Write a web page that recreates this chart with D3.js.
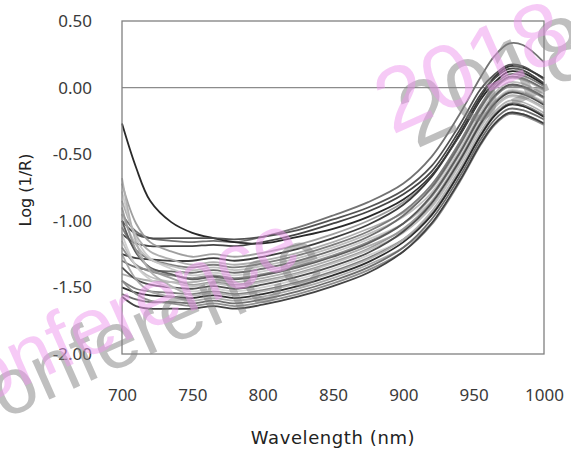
<!DOCTYPE html>
<html><head><meta charset="utf-8">
<script src="https://cdn.jsdelivr.net/npm/d3@7"></script>
<style>body{margin:0;background:#fff}</style>
</head><body>
<svg id="c" width="571" height="453"></svg>
<script>
// wavelengths (nm) where each spectrum is sampled
const wavelengths = [700,710,720,735,750,765,780,800,825,850,875,900,920,940,955,965,975,985,1000];
// Log(1/R) spectra
const spec01 = [-0.95,-1.08,-1.13,-1.15,-1.16,-1.15,-1.16,-1.12,-1.05,-0.96,-0.86,-0.72,-0.52,-0.20,0.08,0.24,0.33,0.32,0.19];
const spec02 = [-0.27,-0.60,-0.85,-1.01,-1.09,-1.13,-1.16,-1.17,-1.12,-1.06,-0.97,-0.84,-0.66,-0.36,-0.09,0.04,0.12,0.11,0.02];
const spec03 = [-1.00,-1.10,-1.13,-1.13,-1.13,-1.13,-1.14,-1.12,-1.07,-0.99,-0.90,-0.77,-0.59,-0.28,-0.01,0.10,0.17,0.16,0.06];
const spec04 = [-1.10,-1.17,-1.19,-1.19,-1.19,-1.18,-1.19,-1.16,-1.10,-1.02,-0.93,-0.80,-0.63,-0.32,-0.05,0.07,0.14,0.13,0.03];
const spec05 = [-0.72,-1.02,-1.16,-1.23,-1.27,-1.25,-1.27,-1.24,-1.18,-1.10,-1.00,-0.86,-0.67,-0.35,-0.07,0.08,0.16,0.15,0.07];
const spec06 = [-1.25,-1.28,-1.29,-1.30,-1.30,-1.28,-1.30,-1.27,-1.21,-1.13,-1.03,-0.88,-0.67,-0.35,-0.07,0.08,0.16,0.15,0.07];
const spec07 = [-0.85,-1.11,-1.23,-1.29,-1.33,-1.31,-1.33,-1.30,-1.24,-1.16,-1.06,-0.94,-0.76,-0.44,-0.16,-0.01,0.07,0.06,-0.02];
const spec08 = [-1.05,-1.22,-1.29,-1.33,-1.35,-1.33,-1.35,-1.32,-1.26,-1.18,-1.08,-0.93,-0.73,-0.41,-0.13,0.02,0.10,0.09,0.01];
const spec09 = [-0.95,-1.18,-1.29,-1.34,-1.37,-1.35,-1.37,-1.34,-1.28,-1.20,-1.10,-0.97,-0.79,-0.47,-0.19,-0.04,0.04,0.03,-0.05];
const spec10 = [-1.30,-1.35,-1.37,-1.38,-1.39,-1.37,-1.39,-1.36,-1.30,-1.22,-1.12,-0.96,-0.75,-0.43,-0.15,0.00,0.08,0.07,-0.01];
const spec11 = [-0.78,-1.13,-1.28,-1.36,-1.41,-1.39,-1.41,-1.38,-1.32,-1.24,-1.14,-1.02,-0.85,-0.53,-0.25,-0.10,-0.02,-0.03,-0.11];
const spec12 = [-1.20,-1.33,-1.38,-1.41,-1.43,-1.41,-1.43,-1.40,-1.34,-1.26,-1.16,-1.02,-0.82,-0.50,-0.22,-0.07,0.01,0.00,-0.08];
const spec13 = [-1.00,-1.24,-1.35,-1.40,-1.44,-1.42,-1.44,-1.41,-1.35,-1.27,-1.17,-1.02,-0.81,-0.49,-0.21,-0.06,0.02,0.01,-0.07];
const spec14 = [-1.40,-1.43,-1.45,-1.46,-1.46,-1.44,-1.46,-1.43,-1.37,-1.29,-1.19,-1.07,-0.89,-0.57,-0.29,-0.14,-0.06,-0.07,-0.15];
const spec15 = [-0.90,-1.22,-1.36,-1.43,-1.48,-1.46,-1.48,-1.45,-1.39,-1.31,-1.21,-1.06,-0.86,-0.54,-0.26,-0.11,-0.03,-0.04,-0.12];
const spec16 = [-1.15,-1.34,-1.42,-1.46,-1.49,-1.47,-1.49,-1.46,-1.40,-1.32,-1.22,-1.09,-0.90,-0.58,-0.30,-0.15,-0.07,-0.08,-0.16];
const spec17 = [-1.35,-1.44,-1.48,-1.50,-1.51,-1.49,-1.51,-1.48,-1.42,-1.34,-1.24,-1.08,-0.87,-0.55,-0.27,-0.12,-0.04,-0.05,-0.13];
const spec18 = [-1.10,-1.34,-1.44,-1.50,-1.53,-1.51,-1.53,-1.50,-1.44,-1.36,-1.26,-1.14,-0.96,-0.64,-0.36,-0.21,-0.13,-0.14,-0.22];
const spec19 = [-1.45,-1.51,-1.53,-1.54,-1.55,-1.53,-1.55,-1.52,-1.46,-1.38,-1.28,-1.14,-0.95,-0.63,-0.35,-0.20,-0.12,-0.13,-0.21];
const spec20 = [-0.68,-1.16,-1.38,-1.49,-1.56,-1.54,-1.56,-1.53,-1.47,-1.39,-1.29,-1.14,-0.93,-0.61,-0.33,-0.18,-0.10,-0.11,-0.19];
const spec21 = [-1.50,-1.54,-1.56,-1.57,-1.58,-1.56,-1.58,-1.55,-1.49,-1.41,-1.31,-1.16,-0.96,-0.64,-0.36,-0.21,-0.13,-0.14,-0.22];
const spec22 = [-1.25,-1.44,-1.53,-1.57,-1.60,-1.58,-1.60,-1.57,-1.51,-1.43,-1.33,-1.20,-1.02,-0.70,-0.42,-0.27,-0.19,-0.20,-0.27];
const spec23 = [-1.55,-1.59,-1.61,-1.61,-1.62,-1.60,-1.62,-1.59,-1.53,-1.45,-1.35,-1.20,-0.99,-0.67,-0.39,-0.24,-0.16,-0.17,-0.24];
const spec24 = [-1.45,-1.55,-1.60,-1.62,-1.64,-1.62,-1.64,-1.61,-1.55,-1.47,-1.37,-1.23,-1.03,-0.71,-0.43,-0.28,-0.20,-0.21,-0.28];
const spec25 = [-1.57,-1.64,-1.66,-1.66,-1.66,-1.64,-1.66,-1.63,-1.57,-1.49,-1.39,-1.23,-1.02,-0.70,-0.42,-0.27,-0.19,-0.20,-0.27];
const spectra = [spec01,spec02,spec03,spec04,spec05,spec06,spec07,spec08,spec09,spec10,spec11,spec12,spec13,spec14,spec15,spec16,spec17,spec18,spec19,spec20,spec21,spec22,spec23,spec24,spec25];
const lineColors = ["#6a6a6a","#1e1e1e","#4a4a4a","#3a3a3a","#9a9a9a","#333333","#ababab","#777777","#bbbbbb","#666666","#c8c8c8","#888888","#555555","#aaaaaa","#999999","#bdbdbd","#444444","#cccccc","#777777","#b0b0b0","#222222","#a5a5a5","#666666","#8a8a8a","#3a3a3a"];
const xTicks = [700,750,800,850,900,950,1000];
const yTicks = [0.5,0,-0.5,-1,-1.5,-2];
const xTitle = "Wavelength (nm)";
const yTitle = "Log (1/R)";
const watermarkWords = ["conference","2018"];

const svg = d3.select("#c");
const x = d3.scaleLinear().domain([700,1000]).range([122,544]);
const y = d3.scaleLinear().domain([-2,0.5]).range([354,21]);
const font = "'Noto Sans', 'Open Sans', sans-serif";
const titleFont = "'DejaVu Sans', Verdana, sans-serif";

// axis at zero
svg.append("line").attr("x1",x(700)).attr("x2",x(1000)).attr("y1",y(0)).attr("y2",y(0))
  .attr("stroke","#8c8c8c").attr("stroke-width",1.2);

const line = d3.line().x((d,i)=>x(wavelengths[i])).y(d=>y(d)).curve(d3.curveCatmullRom.alpha(0.5));
svg.append("g").selectAll("path").data(spectra).join("path")
  .attr("d",line).attr("fill","none")
  .attr("stroke",(d,i)=>lineColors[i]).attr("stroke-width",1.8).attr("stroke-opacity",0.95);

// plot frame
svg.append("rect").attr("x",x(700)).attr("y",y(0.5)).attr("width",x(1000)-x(700)).attr("height",y(-2)-y(0.5))
  .attr("fill","none").attr("stroke","#808080").attr("stroke-width",1.3);

const yAxis = svg.append("g").attr("transform",`translate(${x(700)},0)`)
  .call(d3.axisLeft(y).tickValues(yTicks).tickSize(0).tickPadding(30).tickFormat(d=>d.toFixed(2)));
const xAxis = svg.append("g").attr("transform",`translate(0,${y(-2)})`)
  .call(d3.axisBottom(x).tickValues(xTicks).tickSize(0).tickPadding(35).tickFormat(d=>String(d)));
[yAxis,xAxis].forEach(g=>{
  g.select(".domain").remove();
  g.selectAll("text").attr("font-family",font).attr("font-size",17).attr("fill","#3a3a3a");
});

svg.append("text").attr("x",333).attr("y",444).attr("text-anchor","middle")
  .attr("font-family",titleFont).attr("font-size",18).attr("letter-spacing",0.6).attr("fill","#222").text(xTitle);
svg.append("text").attr("transform","translate(31,190) rotate(-90)").attr("text-anchor","middle")
  .attr("font-family",titleFont).attr("font-size",16).attr("fill","#222").text(yTitle);

// watermark
const wmPos = [{x:-57, y:422, s:80}, {x:392, y:135, s:90}];
watermarkWords.forEach((t,i)=>{
  const p = wmPos[i];
  svg.append("text").attr("transform",`translate(${p.x+24},${p.y+14}) rotate(-24)`)
    .attr("font-family","'Liberation Sans', Arial, sans-serif").attr("font-size",p.s)
    .attr("fill","rgb(128,128,128)").attr("fill-opacity",0.5).text(t);
  svg.append("text").attr("transform",`translate(${p.x},${p.y}) rotate(-24)`)
    .attr("font-family","'Liberation Sans', Arial, sans-serif").attr("font-size",p.s)
    .attr("fill","rgb(238,150,238)").attr("fill-opacity",0.5).text(t);
});
</script>
</body></html>
